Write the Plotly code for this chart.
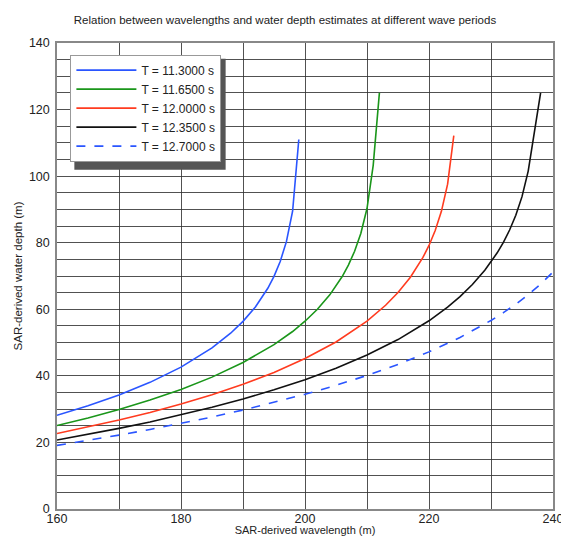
import plotly.graph_objects as go

title_text = "Relation between wavelengths and water depth estimates at different wave periods"
x_label = "SAR-derived wavelength (m)"
y_label = "SAR-derived water depth (m)"

periods = ["T = 11.3000 s", "T = 11.6500 s", "T = 12.0000 s", "T = 12.3500 s", "T = 12.7000 s"]

L_a = [160, 165, 170, 175, 180, 185, 188, 190, 192, 194, 195, 196, 197, 198, 199]
d_a = [28.16, 31.00, 34.26, 38.05, 42.62, 48.39, 52.80, 56.37, 60.71, 66.32, 69.90, 74.37, 80.32, 89.46, 111.0]

L_b = [160, 165, 170, 175, 180, 185, 190, 195, 198, 200, 202, 204, 206, 207, 208, 209, 210, 211, 212]
d_b = [25.07, 27.36, 29.90, 32.72, 35.93, 39.62, 44.00, 49.37, 53.32, 56.41, 60.01, 64.34, 69.84, 73.28, 77.44, 82.78, 90.28, 103.25, 125.0]

L_c = [160, 165, 170, 175, 180, 185, 190, 195, 200, 205, 210, 213, 215, 217, 218, 219, 220, 221, 222, 223, 224]
d_c = [22.68, 24.61, 26.71, 29.00, 31.52, 34.32, 37.46, 41.03, 45.20, 50.19, 56.46, 61.21, 65.03, 69.64, 72.37, 75.50, 79.18, 83.67, 89.42, 97.60, 112.17]

L_d = [160, 165, 170, 175, 180, 185, 190, 195, 200, 205, 210, 215, 220, 223, 225, 227, 229, 230, 231, 232, 233, 234, 235, 236, 237, 238]
d_d = [20.73, 22.41, 24.22, 26.16, 28.26, 30.55, 33.04, 35.80, 38.86, 42.31, 46.26, 50.90, 56.54, 60.64, 63.80, 67.43, 71.71, 74.18, 76.96, 80.12, 83.81, 88.25, 93.84, 101.51, 113.94, 125.0]

L_e = [160, 165, 170, 175, 180, 185, 190, 195, 200, 205, 210, 215, 220, 225, 228, 230, 232, 234, 236, 238, 240]
d_e = [19.11, 20.60, 22.19, 23.88, 25.69, 27.64, 29.73, 32.00, 34.46, 37.16, 40.13, 43.45, 47.20, 51.53, 54.48, 56.64, 58.98, 61.54, 64.38, 67.56, 71.19]

series = [(L_a, d_a), (L_b, d_b), (L_c, d_c), (L_d, d_d), (L_e, d_e)]
colors = ["#2a55ff", "#1a961a", "#ff3b1f", "#111111", "#2a55ff"]
dashes = ["solid", "solid", "solid", "solid", "dash"]

fig = go.Figure()
for (xs, ys), name, c, ds in zip(series, periods, colors, dashes):
    fig.add_trace(go.Scatter(x=xs, y=ys, mode="lines", name=name,
                             line=dict(color=c, width=1.6, dash=ds)))

grid_c = "rgba(50,50,50,0.85)"
fig.update_layout(
    width=561, height=536,
    margin=dict(l=57, r=8, t=43, b=27),
    paper_bgcolor="white", plot_bgcolor="white",
    font=dict(family="Liberation Sans, Arial, sans-serif", size=12, color="#222"),
    title=dict(text=title_text, x=0.508, xanchor="center", y=0.962, yanchor="middle",
               font=dict(size=11.5, color="#222")),
    showlegend=True,
    legend=dict(x=0.027, y=0.975, xanchor="left", yanchor="top",
                bgcolor="white", bordercolor="#999", borderwidth=1,
                font=dict(size=12, color="#222"), itemwidth=60,
                tracegroupgap=0),
    shapes=[dict(type="rect", xref="paper", yref="paper",
                 x0=0.035, x1=0.34, y0=0.728, y1=0.966,
                 fillcolor="#555", line=dict(width=0), layer="above")],
)
fig.update_xaxes(range=[160, 240], dtick=20, tick0=160, showgrid=True, gridcolor=grid_c, gridwidth=1,
                 minor=dict(dtick=10, showgrid=True, gridcolor=grid_c, gridwidth=1),
                 showline=True, linecolor="#888", linewidth=1.5, mirror=True, zeroline=False,
                 ticks="", ticklabelstandoff=-3, automargin=False, ticklabeloverflow="allow",
                 title=dict(text=x_label, standoff=0, font=dict(size=11)),
                 tickfont=dict(size=12.5))
fig.update_yaxes(range=[0, 140], dtick=20, showgrid=True, gridcolor=grid_c, gridwidth=1,
                 minor=dict(dtick=5, showgrid=True, gridcolor=grid_c, gridwidth=1),
                 showline=True, linecolor="#888", linewidth=1.5, mirror=True, zeroline=False,
                 ticks="", ticklabelstandoff=3, automargin=False,
                 title=dict(text=y_label, standoff=4, font=dict(size=11.5)),
                 tickfont=dict(size=12.5))

fig.write_html("out.html", config={"displayModeBar": False},
               post_script="document.body.style.margin='0';document.body.style.overflow='hidden';")
